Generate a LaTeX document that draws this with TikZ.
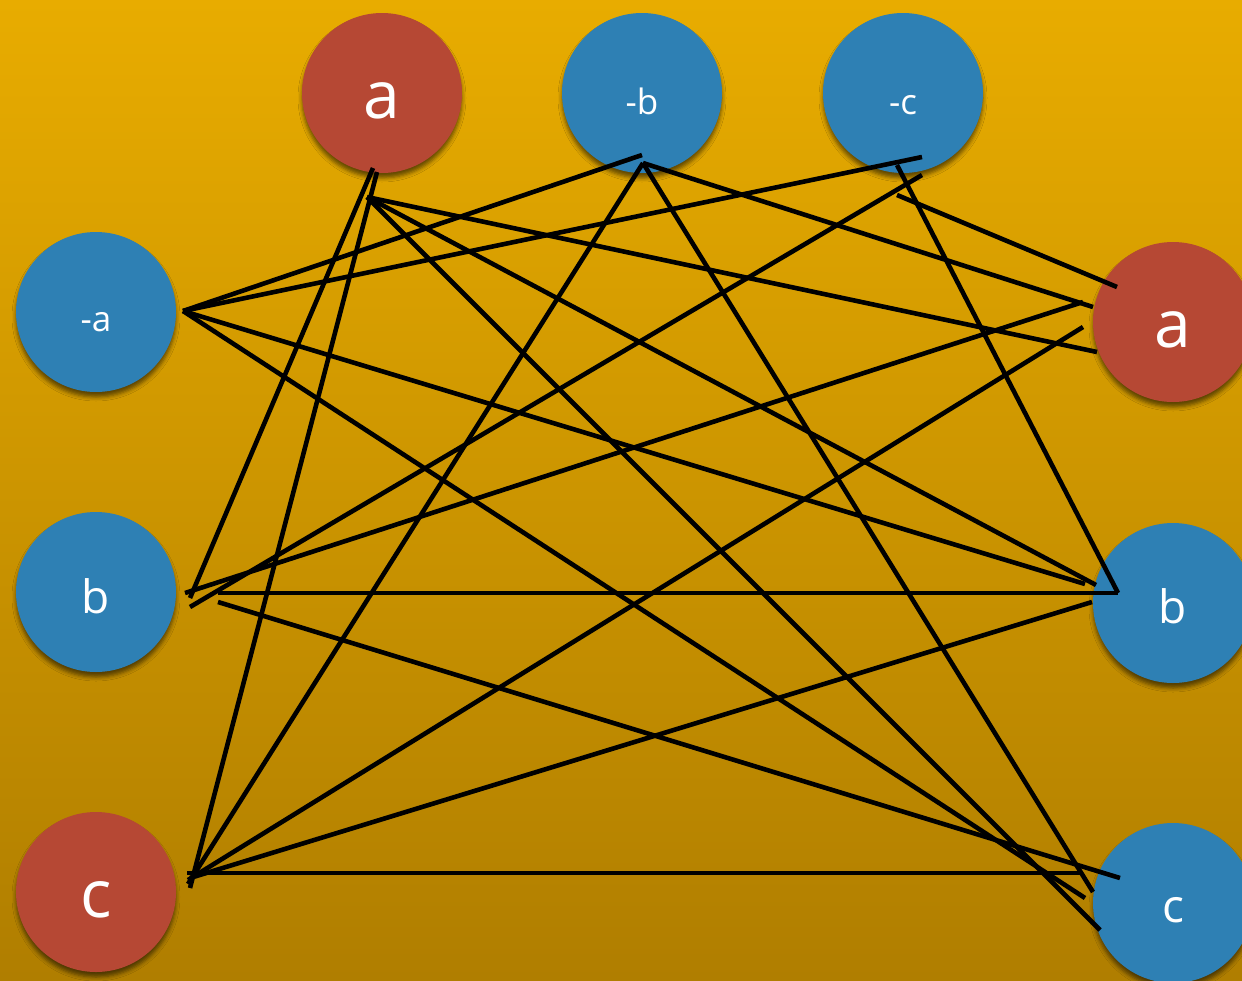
\documentclass[tikz,border=0pt]{standalone}
\usepackage{fontspec}
\setmainfont{Open Sans}
\usetikzlibrary{shadows.blur}

\definecolor{bgtop}{RGB}{232,172,0}
\definecolor{bgbot}{RGB}{176,126,0}
\definecolor{litred}{RGB}{182,72,52}
\definecolor{litblue}{RGB}{46,128,180}

\tikzset{
  lit/.style={circle, minimum size=160pt, inner sep=0pt, text=white,
    text depth=0pt,
    blur shadow={shadow xshift=0pt, shadow yshift=-5pt,
      shadow blur radius=4pt, shadow opacity=55}},
  poslit/.style={lit, fill=litred, font=\fontsize{66}{66}\selectfont,
    text height=51pt},
  neglit/.style={lit, fill=litblue},
  small/.style={font=\fontsize{35}{35}\selectfont, text height=42pt},
  big/.style={font=\fontsize{46}{46}\selectfont},
  edge/.style={line width=4.6pt, black}
}

\begin{document}
\begin{tikzpicture}[x=1pt, y=-1pt]
  % backdrop
  \shade[top color=bgtop, bottom color=bgbot] (0,0) rectangle (1242,980);
  \useasboundingbox (0,0) rectangle (1242,980);

  % clause (a, -b, -c)
  \node[poslit] (ta) at (382,93) {a};
  \node[neglit, small] (nb) at (642,93) {-b};
  \node[neglit, small] (nc) at (903,93) {-c};
  % clause (-a, b, c)
  \node[neglit, small, text height=38pt] (na) at (96,312) {-a};
  \node[neglit, big, text height=43pt] (lb) at (96,592) {b};
  \node[poslit] (lc) at (96,892) {c};
  % clause (a, b, c)
  \node[poslit] (ra) at (1173,322) {a};
  \node[neglit, big, text height=40pt] (rb) at (1173,603) {b};
  \node[neglit, big, text height=38pt] (rc) at (1173,903) {c};

  % edge ends beside each literal
  \coordinate (ta-1) at (373,168);
  \coordinate (ta-2) at (377,172);
  \coordinate (ta-3) at (367,197);
  \coordinate (nb-1) at (642,155);
  \coordinate (nb-2) at (643,163);
  \coordinate (nc-1) at (922,157);
  \coordinate (nc-2) at (922,175);
  \coordinate (nc-3) at (897,165);
  \coordinate (nc-4) at (897,195);
  \coordinate (na-1) at (183,311);
  \coordinate (lb-1) at (190,598);
  \coordinate (lb-2) at (190,607);
  \coordinate (lb-3) at (185,593);
  \coordinate (lb-4) at (218,593);
  \coordinate (lb-5) at (218,602);
  \coordinate (lc-1) at (190,888);
  \coordinate (lc-2) at (188,884);
  \coordinate (lc-3) at (188,880);
  \coordinate (lc-4) at (190,878);
  \coordinate (lc-5) at (187,873);
  \coordinate (ra-1) at (1097,352);
  \coordinate (ra-2) at (1093,307);
  \coordinate (ra-3) at (1117,287);
  \coordinate (ra-4) at (1083,302);
  \coordinate (ra-5) at (1083,327);
  \coordinate (rb-1) at (1096,585);
  \coordinate (rb-2) at (1118,593);
  \coordinate (rb-3) at (1085,584);
  \coordinate (rb-4) at (1092,602);
  \coordinate (rc-1) at (1100,930);
  \coordinate (rc-2) at (1093,892);
  \coordinate (rc-3) at (1085,898);
  \coordinate (rc-4) at (1120,878);
  \coordinate (rc-5) at (1083,873);

  % edges between compatible literals of different clauses
  \draw[edge] (ta-1) -- (lb-1);
  \draw[edge] (ta-2) -- (lc-1);
  \draw[edge] (ta-3) -- (ra-1);
  \draw[edge] (ta-3) -- (rb-1);
  \draw[edge] (ta-3) -- (rc-1);

  \draw[edge] (nb-1) -- (na-1);
  \draw[edge] (nb-2) -- (lc-2);
  \draw[edge] (nb-2) -- (ra-2);
  \draw[edge] (nb-2) -- (rc-2);

  \draw[edge] (nc-1) -- (na-1);
  \draw[edge] (nc-2) -- (lb-2);
  \draw[edge] (nc-3) -- (rb-2);
  \draw[edge] (nc-4) -- (ra-3);

  \draw[edge] (na-1) -- (rb-3);
  \draw[edge] (na-1) -- (rc-3);

  \draw[edge] (lb-3) -- (ra-4);
  \draw[edge] (lb-4) -- (rb-2);
  \draw[edge] (lb-5) -- (rc-4);

  \draw[edge] (lc-3) -- (ra-5);
  \draw[edge] (lc-4) -- (rb-4);
  \draw[edge] (lc-5) -- (rc-5);
\end{tikzpicture}
\end{document}
